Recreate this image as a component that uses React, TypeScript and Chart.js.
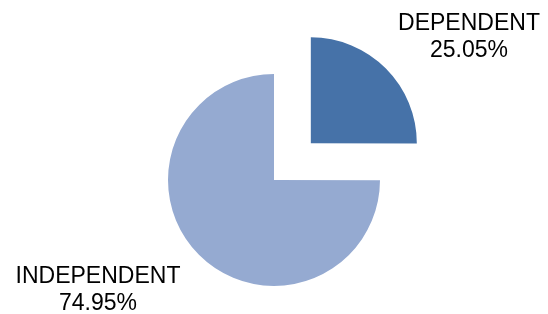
import React, { useEffect, useRef } from "react";
import { Chart, registerables } from "chart.js";

Chart.register(...registerables);

const categories = ["DEPENDENT", "INDEPENDENT"];
const values = [25.05, 74.95];
const percentLabels = ["25.05%", "74.95%"];
const colors = ["#4672A8", "#95AAD1"];

const labelPlugin = {
  id: "sliceLabels",
  afterDatasetsDraw(chart: any) {
    const meta = chart.getDatasetMeta(0);
    const ctx = chart.ctx;
    const offsets = [
      [195, -150],
      [-176, 103],
    ];
    ctx.save();
    ctx.font = "23px 'Liberation Sans', Arial, sans-serif";
    ctx.fillStyle = "#000000";
    ctx.textAlign = "center";
    ctx.textBaseline = "alphabetic";
    meta.data.forEach((arc: any, i: number) => {
      const x = arc.x + offsets[i][0];
      const y = arc.y + offsets[i][1];
      ctx.fillText(categories[i], x, y);
      ctx.fillText(percentLabels[i], x, y + 27);
    });
    ctx.restore();
  },
};

export default function App() {
  const ref = useRef<HTMLCanvasElement>(null);
  useEffect(() => {
    document.body.style.margin = "0";
    const chart = new Chart(ref.current!, {
      type: "pie",
      data: {
        labels: categories,
        datasets: [
          {
            data: values,
            backgroundColor: colors,
            borderWidth: 0,
            offset: [208, 0],
          },
        ],
      },
      options: {
        responsive: false,
        animation: false,
        radius: 106,
        layout: { padding: { top: 46, bottom: 0, left: 0, right: 0 } },
        plugins: {
          legend: { display: false },
          tooltip: { enabled: false },
        },
      },
      plugins: [labelPlugin],
    });
    return () => chart.destroy();
  }, []);
  return (
    <div style={{ position: "absolute", left: 0, top: 0, width: 548, height: 314 }}>
      <canvas ref={ref} width={548} height={314} />
    </div>
  );
}
